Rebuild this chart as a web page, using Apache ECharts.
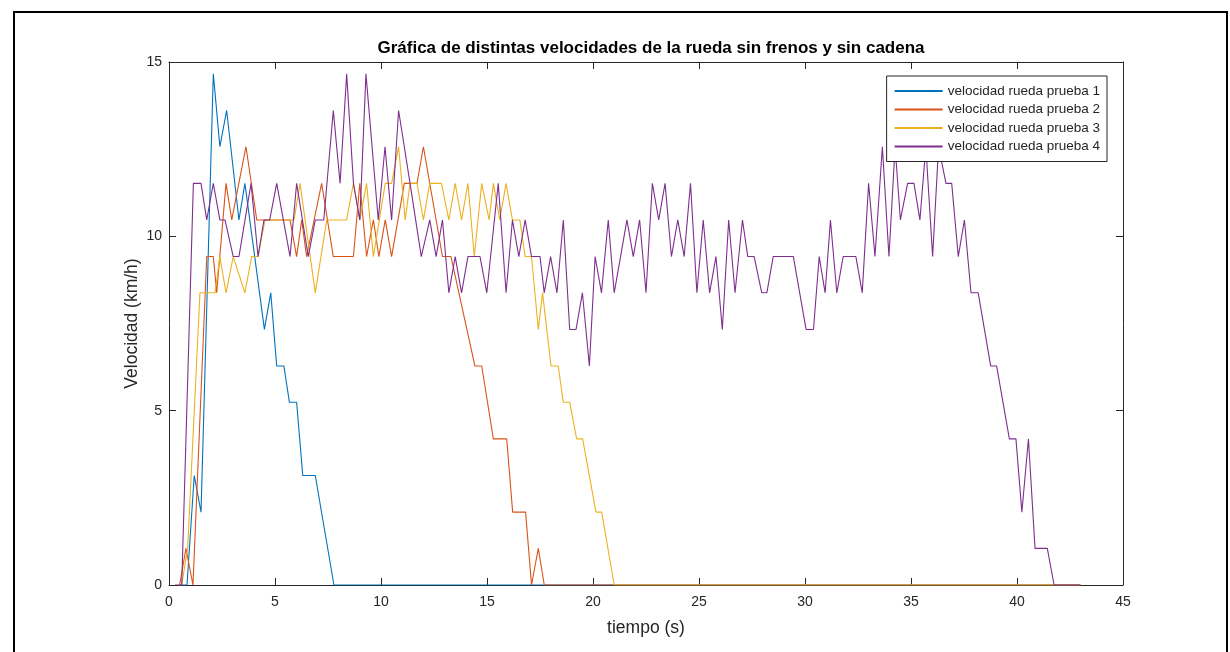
<!DOCTYPE html>
<html>
<head>
<meta charset="utf-8">
<script src="https://cdn.jsdelivr.net/npm/echarts@6/dist/echarts.min.js"></script>
<style>
html,body{margin:0;padding:0;background:#fff;}
#chart{width:1230px;height:652px;}
</style>
</head>
<body>
<div id="chart"></div>
<script>
// ---- data: [tiempo (s), velocidad (km/h)] vertices ----
const prueba1 = [[0.5,0],[0.85,0],[1.19,3.14],[1.51,2.09],[2.09,14.66],[2.4,12.57],[2.72,13.61],[3.3,10.47],[3.58,11.52],[4.5,7.33],[4.8,8.38],[5.08,6.28],[5.42,6.28],[5.68,5.24],[6.02,5.24],[6.31,3.14],[6.9,3.14],[7.78,0],[43,0]];
const prueba2 = [[0.5,0],[0.8,1.05],[1.13,0],[1.78,9.42],[2.09,9.42],[2.25,8.38],[2.69,11.52],[2.96,10.47],[3.63,12.57],[4.14,10.47],[5.71,10.47],[6.02,9.42],[6.26,10.47],[6.49,9.42],[7.2,11.52],[7.75,9.42],[8.7,9.42],[9.0,11.52],[9.32,9.42],[9.64,10.47],[9.9,9.42],[10.2,10.47],[10.5,9.42],[11.1,11.52],[11.7,11.52],[12.0,12.57],[12.9,9.42],[13.3,9.42],[14.43,6.28],[14.75,6.28],[15.3,4.19],[15.93,4.19],[16.21,2.09],[16.82,2.09],[17.1,0],[17.42,1.05],[17.7,0],[43,0]];
const prueba3 = [[0.5,0],[0.6,0],[0.88,1.05],[1.46,8.38],[2.17,8.38],[2.4,9.42],[2.69,8.38],[3.03,9.42],[3.58,8.38],[3.9,9.42],[4.2,9.42],[4.53,10.47],[5.9,10.47],[6.18,11.52],[6.9,8.38],[7.44,10.47],[8.38,10.47],[8.7,11.52],[9.0,10.47],[9.32,11.52],[9.64,9.42],[10.2,11.52],[10.5,11.52],[10.83,12.57],[11.14,10.47],[11.37,11.52],[11.7,11.52],[12.0,10.47],[12.3,11.52],[12.85,11.52],[13.2,10.47],[13.5,11.52],[13.8,10.47],[14.1,11.52],[14.4,9.42],[14.75,11.52],[15.1,10.47],[15.3,11.52],[15.6,10.47],[15.9,11.52],[16.2,10.47],[16.55,10.47],[16.8,9.42],[17.1,9.42],[17.42,7.33],[17.62,8.38],[18.02,6.28],[18.36,6.28],[18.6,5.24],[18.9,5.24],[19.23,4.19],[19.51,4.19],[20.14,2.09],[20.41,2.09],[21.0,0],[43,0]];
const prueba4 = [[0.28,0],[0.6,0],[1.15,11.52],[1.51,11.52],[1.78,10.47],[2.09,11.52],[2.4,10.47],[2.64,10.47],[3.03,9.42],[3.3,9.42],[3.87,11.52],[4.2,9.42],[4.48,10.47],[4.75,10.47],[5.08,11.52],[5.71,9.42],[6.02,11.52],[6.57,9.42],[6.9,10.47],[7.3,10.47],[7.75,13.61],[8.07,11.52],[8.38,14.66],[8.7,11.52],[9.0,10.47],[9.29,14.66],[9.87,10.47],[10.19,12.57],[10.5,10.47],[10.83,13.61],[11.37,11.52],[11.9,9.42],[12.3,10.47],[12.6,9.42],[12.9,10.47],[13.2,8.38],[13.5,9.42],[13.8,8.38],[14.1,9.42],[14.67,9.42],[14.99,8.38],[15.53,11.52],[15.9,8.38],[16.2,10.47],[16.5,9.42],[16.8,10.47],[17.1,9.42],[17.5,9.42],[17.7,8.38],[18.0,9.42],[18.3,8.38],[18.6,10.47],[18.9,7.33],[19.2,7.33],[19.5,8.38],[19.83,6.28],[20.1,9.42],[20.4,8.38],[20.72,10.47],[21.0,8.38],[21.3,9.42],[21.6,10.47],[21.9,9.42],[22.2,10.47],[22.5,8.38],[22.8,11.52],[23.1,10.47],[23.4,11.52],[23.7,9.42],[24.0,10.47],[24.3,9.42],[24.6,11.52],[24.9,8.38],[25.2,10.47],[25.5,8.38],[25.8,9.42],[26.1,7.33],[26.4,10.47],[26.7,8.38],[27.05,10.47],[27.3,9.42],[27.6,9.42],[27.96,8.38],[28.2,8.38],[28.5,9.42],[29.45,9.42],[30.05,7.33],[30.4,7.33],[30.67,9.42],[30.95,8.38],[31.2,10.47],[31.5,8.38],[31.8,9.42],[32.4,9.42],[32.7,8.38],[33.0,11.52],[33.3,9.42],[33.65,12.57],[33.96,9.42],[34.25,12.57],[34.5,10.47],[34.84,11.52],[35.14,11.52],[35.42,10.47],[35.7,12.57],[36.02,9.42],[36.3,12.57],[36.65,11.52],[36.92,11.52],[37.23,9.42],[37.52,10.47],[37.83,8.38],[38.17,8.38],[38.76,6.28],[39.04,6.28],[39.64,4.19],[39.95,4.19],[40.23,2.09],[40.54,4.19],[40.85,1.05],[41.43,1.05],[41.75,0],[42.97,0]];

const seriesNames = ['velocidad rueda prueba 1','velocidad rueda prueba 2','velocidad rueda prueba 3','velocidad rueda prueba 4'];
const seriesColors = ['#0072BD','#D95319','#EDB120','#7E2F8E'];
const xTicks = {min:0, max:45, interval:5};
const yTicks = {min:0, max:15, interval:5};
const titleText = 'Gráfica de distintas velocidades de la rueda sin frenos y sin cadena';
const xName = 'tiempo (s)';
const yName = 'Velocidad (km/h)';

const axisColor = '#262626';
const FONT = '"Liberation Sans", Arial, Helvetica, sans-serif';

const chart = echarts.init(document.getElementById('chart'), null, {renderer:'canvas'});

function xAxisDef(pos, show){
  return {
    type:'value', position:pos, min:xTicks.min, max:xTicks.max, interval:xTicks.interval,
    axisLine:{show:true, onZero:false, lineStyle:{color:axisColor, width:1}},
    axisTick:{show:true, inside:true, length:7, lineStyle:{color:axisColor, width:1}},
    axisLabel:{show:show, color:axisColor, fontFamily:FONT, fontSize:14, margin:10},
    splitLine:{show:false},
    name: show ? xName : '', nameLocation:'middle', nameGap:34,
    nameTextStyle:{color:axisColor, fontFamily:FONT, fontSize:17.5}
  };
}
function yAxisDef(pos, show){
  return {
    type:'value', position:pos, min:yTicks.min, max:yTicks.max, interval:yTicks.interval,
    axisLine:{show:true, onZero:false, lineStyle:{color:axisColor, width:1}},
    axisTick:{show:true, inside:true, length:7, lineStyle:{color:axisColor, width:1}},
    axisLabel:{show:show, color:axisColor, fontFamily:FONT, fontSize:14, margin:7},
    splitLine:{show:false},
    name: show ? yName : '', nameLocation:'middle', nameGap:28, nameRotate:90,
    nameMoveOverlap:false,
    nameTextStyle:{color:axisColor, fontFamily:FONT, fontSize:17.5}
  };
}

const dataSets = [prueba1, prueba2, prueba3, prueba4];

chart.setOption({
  animation:false,
  backgroundColor:'#ffffff',
  title:{
    text:titleText, left:646, top:35, textAlign:'center',
    textStyle:{fontFamily:FONT, fontSize:17, fontWeight:'bold', color:'#000'}
  },
  grid:{left:169, right:107, top:62, bottom:67, containLabel:false},
  xAxis:[xAxisDef('bottom', true), xAxisDef('top', false)],
  yAxis:[yAxisDef('left', true), yAxisDef('right', false)],
  legend:{
    orient:'vertical', right:123, top:76, z:50, zlevel:0,
    backgroundColor:'#fff', borderColor:axisColor, borderWidth:1,
    padding:[7,7,7,8], itemGap:2.5, itemWidth:48, itemHeight:2,
    icon:'rect',
    textStyle:{fontFamily:FONT, fontSize:13.5, lineHeight:16, color:axisColor, padding:[0,0,0,0]},
    data:seriesNames
  },
  series: dataSets.map((d,i)=>({
    name:seriesNames[i], type:'line', data:d, xAxisIndex:0, yAxisIndex:0,
    showSymbol:false, symbol:'none', smooth:false,
    lineStyle:{color:seriesColors[i], width:1.1},
    itemStyle:{color:seriesColors[i]},
    z:2
  })),
  graphic:[{
    type:'polyline', silent:true, z:100,
    shape:{points:[[14,660],[14,12],[1227,12],[1227,660]]},
    style:{stroke:'#000', lineWidth:2, fill:null}
  }]
});
</script>
</body>
</html>
